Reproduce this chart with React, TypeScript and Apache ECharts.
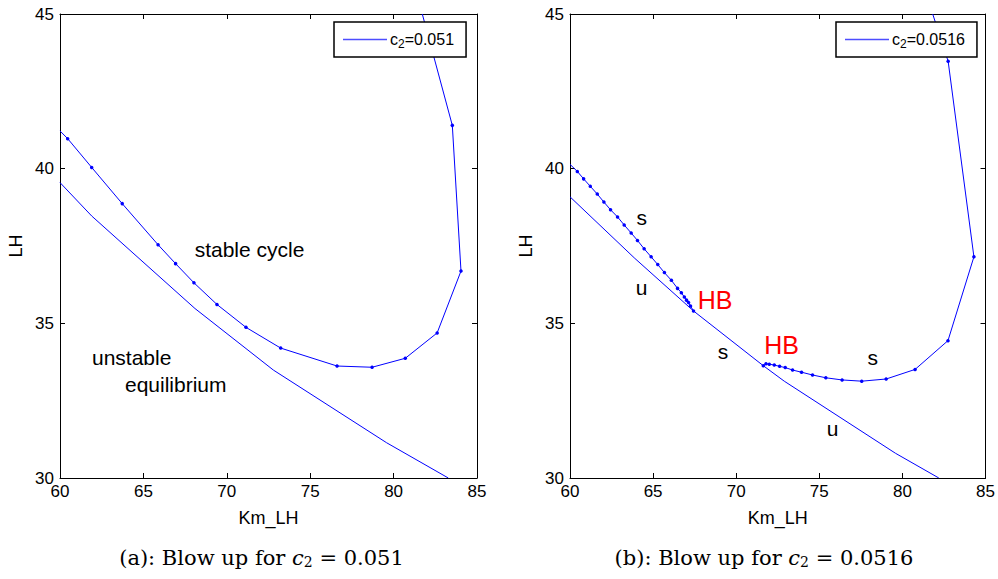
import React, { useEffect, useRef } from "react";
import * as echarts from "echarts";

// ---- data ----
const xTicks = [60, 65, 70, 75, 80, 85];
const yTicks = [30, 35, 40, 45];

// panel (a): c2 = 0.051
const cycleA: number[][] = [
  [60, 41.22], [60.46, 40.97], [61.9, 40.04], [63.73, 38.87], [65.88, 37.54],
  [66.93, 36.93], [68.03, 36.31], [69.41, 35.61], [71.15, 34.87], [73.23, 34.2],
  [76.61, 33.62], [78.71, 33.58], [80.7, 33.87], [82.61, 34.69], [84.04, 36.69],
  [83.52, 41.4], [81.72, 45],
];
const equilA: number[][] = [
  [60, 39.55], [61.9, 38.47], [68.09, 35.48], [72.79, 33.49], [79.58, 31.14], [83.28, 30],
];

// panel (b): c2 = 0.0516
const cycleB1: number[][] = [
  [60, 40.14], [60.44, 39.91], [60.82, 39.67], [61.22, 39.43], [61.64, 39.18],
  [62.04, 38.92], [62.44, 38.67], [62.86, 38.44], [63.26, 38.18], [63.68, 37.92],
  [64.06, 37.68], [64.46, 37.41], [64.88, 37.15], [65.28, 36.9], [65.68, 36.64],
  [66.1, 36.39], [66.47, 36.13], [66.7, 35.99], [66.88, 35.85], [67.01, 35.75],
  [67.13, 35.67], [67.25, 35.56], [67.43, 35.4],
];
const cycleB2: number[][] = [
  [71.63, 33.63], [71.79, 33.69], [71.99, 33.68], [72.29, 33.65], [72.61, 33.61],
  [72.95, 33.57], [73.39, 33.49], [73.93, 33.42], [74.59, 33.33], [75.39, 33.24],
  [76.37, 33.17], [77.55, 33.13], [79.02, 33.2], [80.76, 33.51], [82.74, 34.44],
  [84.3, 37.15], [82.75, 43.47], [81.82, 45],
];
const equilB: number[][] = [
  [60, 39.09], [63.9, 37.1], [67.43, 35.4], [71.63, 33.63], [72.89, 33.13],
  [79.58, 30.8], [82.19, 30],
];

const legendA = "c2=0.051";
const legendB = "c2=0.0516";

const BLUE = "#0000ff";
const SANS = "'Liberation Sans', Arial, Helvetica, sans-serif";
const SERIF = "'DejaVu Serif', 'Liberation Serif', serif";

function withEdgeSymbols(pts: number[][]) {
  const xMin = xTicks[0], xMax = xTicks[xTicks.length - 1];
  const yMin = yTicks[0], yMax = yTicks[yTicks.length - 1];
  return pts.map((p) => {
    const onEdge = p[0] <= xMin || p[0] >= xMax || p[1] <= yMin || p[1] >= yMax;
    return onEdge ? { value: p, symbol: "none" } : { value: p };
  });
}

export default function App() {
  const ref = useRef<HTMLDivElement>(null);

  useEffect(() => {
    document.body.style.margin = "0";
    if (!ref.current) return;
    const chart = echarts.init(ref.current, null, { renderer: "svg" });

    const xMin = xTicks[0], xMax = xTicks[xTicks.length - 1];
    const yMin = yTicks[0], yMax = yTicks[yTicks.length - 1];
    const xStep = xTicks[1] - xTicks[0];
    const yStep = yTicks[1] - yTicks[0];

    const axisLine = { show: true, onZero: false, lineStyle: { color: "#000", width: 1 } };
    const tick = { show: true, inside: true, length: 5, lineStyle: { color: "#000" } };

    const mkX = (grid: number, pos: "bottom" | "top") => ({
      type: "value",
      gridIndex: grid,
      position: pos,
      min: xMin,
      max: xMax,
      interval: xStep,
      axisLine,
      axisTick: tick,
      splitLine: { show: false },
      axisLabel: {
        show: pos === "bottom",
        color: "#000",
        fontSize: 17,
        fontFamily: SANS,
        margin: 5,
      },
      name: pos === "bottom" ? "Km_LH" : "",
      nameLocation: "middle",
      nameGap: 31,
      nameTextStyle: { color: "#000", fontSize: 18, fontFamily: SANS },
    });
    const mkY = (grid: number, pos: "left" | "right") => ({
      type: "value",
      gridIndex: grid,
      position: pos,
      min: yMin,
      max: yMax,
      interval: yStep,
      axisLine,
      axisTick: tick,
      splitLine: { show: false },
      axisLabel: {
        show: pos === "left",
        color: "#000",
        fontSize: 17,
        fontFamily: SANS,
        margin: 6,
      },
      name: pos === "left" ? "LH" : "",
      nameLocation: "middle",
      nameGap: 35,
      nameRotate: 90,
      nameTextStyle: { color: "#000", fontSize: 18, fontFamily: SANS },
    });

    const lineSeries = (name: string, axis: number, pts: number[][], dots: boolean) => ({
      type: "line",
      name,
      xAxisIndex: axis,
      yAxisIndex: axis,
      data: withEdgeSymbols(pts),
      showSymbol: dots,
      symbol: dots ? "circle" : "none",
      symbolSize: 3.5,
      itemStyle: { color: BLUE },
      lineStyle: { color: BLUE, width: 1 },
      clip: true,
      z: 3,
    });

    const legendRich = {
      t: { fontSize: 16, color: "#000", fontFamily: SANS, lineHeight: 18 },
      s: { fontSize: 12, color: "#000", fontFamily: SANS, padding: [9, 0, 0, 0], lineHeight: 18 },
    };
    const legendFmt = (name: string) => {
      const rest = name.slice(2);
      return `{t|c}{s|2}{t|${rest}}`;
    };
    const mkLegend = (name: string, left: number) => ({
      data: [{ name, icon: "rect", itemStyle: { color: "#4d4dff" } }],
      left,
      top: 22,
      orient: "horizontal",
      itemWidth: 44,
      itemHeight: 1.5,
      itemGap: 0,
      padding: [7, 12, 7, 9],
      borderColor: "#000",
      borderWidth: 1.5,
      backgroundColor: "#fff",
      formatter: legendFmt,
      textStyle: { rich: legendRich, padding: [0, 0, 0, -2] },
      selectedMode: false,
      z: 10,
    });

    const txt = (text: string, x: number, y: number, opts: any = {}) => ({
      type: "text",
      x,
      y,
      z: 20,
      style: {
        text,
        fill: opts.fill || "#000",
        fontSize: opts.fontSize || 21,
        fontFamily: SANS,
        textAlign: opts.align || "center",
        textVerticalAlign: "middle",
      },
    });

    const captionRich = {
      n: { fontSize: 21, fontFamily: SERIF, color: "#111" },
      i: { fontSize: 21, fontFamily: SERIF, fontStyle: "italic", color: "#111" },
      s: { fontSize: 14, fontFamily: SERIF, color: "#111", padding: [8, 0, 0, 0] },
    };
    const caption = (label: string, value: string, x: number) => ({
      type: "text",
      x,
      y: 558,
      z: 20,
      style: {
        text: `{n|(${label}): Blow up for }{i|c}{s|2}{n| = ${value}}`,
        rich: captionRich,
        textAlign: "center",
        textVerticalAlign: "middle",
      },
    });

    chart.setOption({
      animation: false,
      backgroundColor: "#fff",
      grid: [
        { left: 60, top: 14, width: 417, height: 464 },
        { left: 570, top: 14, width: 417, height: 464 },
      ],
      xAxis: [mkX(0, "bottom"), mkX(0, "top"), mkX(1, "bottom"), mkX(1, "top")],
      yAxis: [mkY(0, "left"), mkY(0, "right"), mkY(1, "left"), mkY(1, "right")],
      legend: [mkLegend(legendA, 334), mkLegend(legendB, 836)],
      series: [
        lineSeries(legendA, 0, cycleA, true),
        lineSeries(legendA, 0, equilA, false),
        lineSeries(legendB, 2, cycleB1, true),
        lineSeries(legendB, 2, cycleB2, true),
        lineSeries(legendB, 2, equilB, false),
      ],
      graphic: [
        txt("stable cycle", 249.5, 249.5),
        txt("unstable", 92, 357, { align: "left" }),
        txt("equilibrium", 125, 384.5, { align: "left" }),
        txt("s", 641.7, 217.6),
        txt("u", 641.7, 287.6),
        txt("HB", 697.7, 299.5, { align: "left", fill: "#ff0000", fontSize: 25 }),
        txt("s", 723, 351),
        txt("HB", 764.3, 345.2, { align: "left", fill: "#ff0000", fontSize: 25 }),
        txt("s", 872.7, 357.6),
        txt("u", 832.5, 428.6),
        caption("a", "0.051", 261.5),
        caption("b", "0.0516", 764),
      ],
    });

    return () => chart.dispose();
  }, []);

  return <div ref={ref} style={{ width: 998, height: 579 }} />;
}
